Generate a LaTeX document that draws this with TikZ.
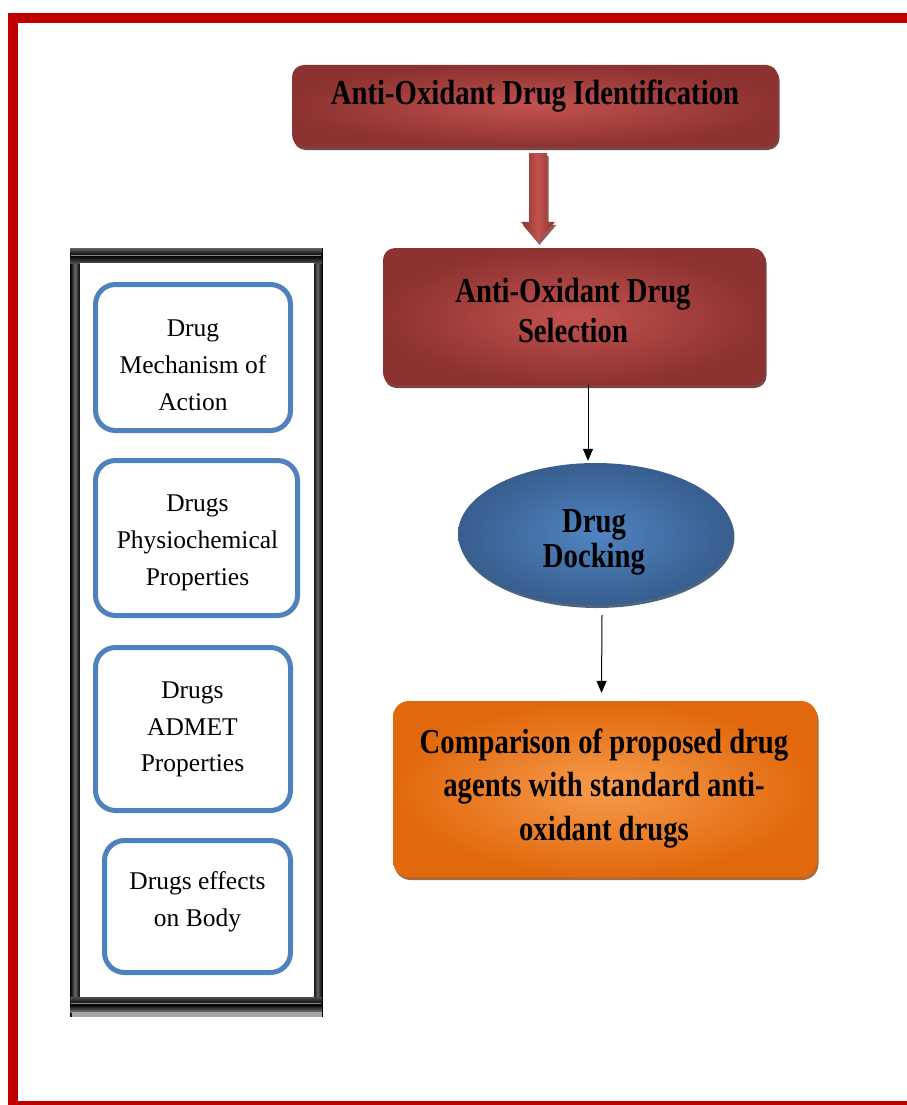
\documentclass[tikz,border=0pt]{standalone}
\usepackage{fontspec}
\setmainfont{Liberation Serif}
\newfontfamily\hdfont[FakeStretch=0.82]{Liberation Serif}
\usetikzlibrary{shapes.geometric,shadows,arrows.meta,calc}
\definecolor{framered}{HTML}{C00000}
\definecolor{redin}{HTML}{C2524F}
\definecolor{redout}{HTML}{8C3230}
\definecolor{redshadow}{HTML}{5A1A18}
\definecolor{bluein}{HTML}{5084C2}
\definecolor{blueout}{HTML}{375E8E}
\definecolor{blueshadow}{HTML}{243F60}
\definecolor{orgin}{HTML}{F79B4C}
\definecolor{orgout}{HTML}{E1680C}
\definecolor{orgshadow}{HTML}{9A4507}
\definecolor{boxblue}{HTML}{4F81BD}
\newcommand{\hdtext}[2]{{\hdfont\bfseries\fontsize{35}{#1}\selectfont\begin{tabular}[t]{@{}c@{}}#2\end{tabular}}}
\newcommand{\smtext}[1]{{\fontsize{25.5}{36.7}\selectfont\begin{tabular}[t]{@{}c@{}}#1\end{tabular}}}
\tikzset{
  txt/.style={anchor=base, inner sep=0pt, text=black},
  shadowed/.style={drop shadow={shadow xshift=1.5pt, shadow yshift=-3pt, fill=#1, opacity=0.8}},
  redbox/.style={rectangle, rounded corners=12pt, inner sep=0pt, inner color=redin, outer color=redout, shadowed=redshadow},
  orangebox/.style={rectangle, rounded corners=16pt, inner sep=0pt, inner color=orgin, outer color=orgout, shadowed=orgshadow},
  blueellipse/.style={ellipse, inner sep=0pt, inner color=bluein, outer color=blueout, shadowed=blueshadow},
  sidebox/.style={rectangle, rounded corners=20pt, draw=boxblue, line width=5pt, fill=white, inner sep=0pt},
  thinarrow/.style={draw=black, line width=1pt, -{Triangle[width=10pt,length=12pt]}}
}
\begin{document}
\begin{tikzpicture}[x=1pt,y=-1pt]
\useasboundingbox (0,0) rectangle (907,1105);
\clip (0,0) rectangle (907,1105);
\fill[white] (0,0) rectangle (907,1105);
% outer red frame
\draw[framered, line width=10pt] (12.5,18.5) rectangle (925,1106);

% main flow boxes
\node[redbox, minimum width=486pt, minimum height=82pt] (idbox) at (535,106) {};
\node[txt] (idtxt) at (535,105) {\hdtext{42}{Anti-Oxidant Drug Identification}};

\node[redbox, minimum width=382pt, minimum height=137pt] (selbox) at (574,316.5) {};
\node[txt] (seltxt) at (573,302) {\hdtext{40}{Anti-Oxidant Drug\\Selection}};

\node[blueellipse, minimum width=275pt, minimum height=142pt] (dock) at (595.5,534) {};
\node[txt] (docktxt) at (594,532) {\hdtext{35}{Drug\\Docking}};

\node[orangebox, minimum width=424pt, minimum height=176pt] (cmpbox) at (605,789) {};
\node[txt] (cmptxt) at (604,753) {\hdtext{43.5}{Comparison of proposed drug\\agents with standard anti-\\oxidant drugs}};

% block arrow between the two red boxes
\coordinate (a0) at ($(idbox.south)+(3,6)$);
\coordinate (a1) at ($(a0 |- selbox.north)+(0,-6)$);
\fill[redshadow, opacity=0.7]
  ($(a0)+(-7.5,3)$) -- ($(a0)+(10.5,3)$) -- ($(a1)+(10.5,-17)$) -- ($(a1)+(18.5,-17)$)
  -- ($(a1)+(1.5,3)$) -- ($(a1)+(-15.5,-17)$) -- ($(a1)+(-7.5,-17)$) -- cycle;
\shade[left color=redout, right color=redout, middle color=redin]
  ($(a0)+(-9,0)$) -- ($(a0)+(9,0)$) -- ($(a1)+(9,-20)$) -- ($(a1)+(17,-20)$)
  -- (a1) -- ($(a1)+(-17,-20)$) -- ($(a1)+(-9,-20)$) -- cycle;

% thin arrows
\draw[thinarrow] ([xshift=14pt]selbox.south) -- ([xshift=-7.5pt,yshift=2pt]dock.north);
\draw[thinarrow] ([xshift=6.5pt,yshift=-10pt]dock.south) -- ([xshift=-3.5pt,yshift=8pt]cmpbox.north);

% left panel frame
\node[rectangle, fill=black!85, draw=black, line width=0.8pt, minimum width=252pt, minimum height=768pt, inner sep=0pt] (panel) at (196,632) {};
\shade[left color=black, right color=black, middle color=black!60] (70,250) rectangle (80,1012);
\shade[left color=black, right color=black, middle color=black!60] (313,250) rectangle (322,1012);
\shade[top color=black!60, bottom color=black!70, middle color=black] (70,248) rectangle (322,263);
\draw[black!45, line width=1pt] (71,255) -- (321,255);
\shade[top color=black!70, bottom color=black!55, middle color=black] (70,997) rectangle (322,1012);
\draw[black!45, line width=1pt] (71,1003) -- (321,1003);
\fill[black!35] (72,1012) rectangle (322,1017);
\node[rectangle, fill=white, inner sep=0pt, minimum width=234pt, minimum height=734pt] (panelin) at (197,630) {};

% side boxes
\node[sidebox, minimum width=195pt, minimum height=146pt] (b1) at (193,357.5) {};
\node[txt] (b1txt) at (193,336.7) {\smtext{Drug\\Mechanism of\\Action}};

\node[sidebox, minimum width=202pt, minimum height=155pt] (b2) at (196.5,538) {};
\node[txt] (b2txt) at (197.5,511.7) {\smtext{Drugs\\Physiochemical\\Properties}};

\node[sidebox, minimum width=195pt, minimum height=163pt] (b3) at (193,729) {};
\node[txt] (b3txt) at (192.5,698.3) {\smtext{Drugs\\ADMET\\Properties}};

\node[sidebox, minimum width=186pt, minimum height=132pt] (b4) at (197.5,906.5) {};
\node[txt] (b4txt) at (197.5,889.3) {\smtext{Drugs effects\\on Body}};
\end{tikzpicture}
\end{document}
